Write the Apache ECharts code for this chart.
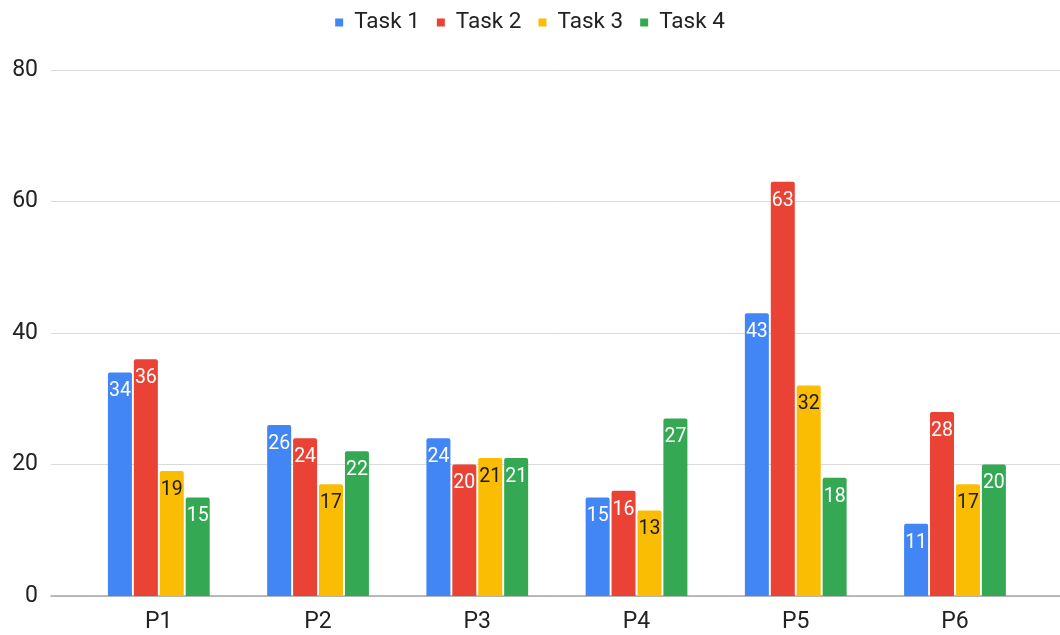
<!DOCTYPE html>
<html>
<head>
<meta charset="utf-8">
<script src="https://cdn.jsdelivr.net/npm/echarts@6/dist/echarts.min.js"></script>
<style>
  html, body { margin: 0; padding: 0; background: #fff; }
  #chart { width: 1060px; height: 635px; }
</style>
</head>
<body>
<div id="chart"></div>
<script>
const categories = ['P1', 'P2', 'P3', 'P4', 'P5', 'P6'];
const seriesNames = ['Task 1', 'Task 2', 'Task 3', 'Task 4'];
const task1 = [34, 26, 24, 15, 43, 11];
const task2 = [36, 24, 20, 16, 63, 28];
const task3 = [19, 17, 21, 13, 32, 17];
const task4 = [15, 22, 21, 27, 18, 20];
const yTicks = [0, 20, 40, 60, 80];

const colors = ['#4285F4', '#EA4335', '#FBBC04', '#34A853'];
const labelColors = ['#ffffff', '#ffffff', '#1a1a1a', '#ffffff'];
const values = [task1, task2, task3, task4];
const FONT = 'Roboto, "Noto Sans", sans-serif';

const chart = echarts.init(document.getElementById('chart'), null, { renderer: 'canvas' });

const yMin = yTicks[0];
const yMax = yTicks[yTicks.length - 1];
const yStep = yTicks[1] - yTicks[0];

const option = {
  animation: false,
  color: colors,
  textStyle: { fontFamily: FONT },
  legend: {
    data: seriesNames,
    left: 'center',
    top: 6,
    itemWidth: 8,
    itemHeight: 8,
    itemGap: 17,
    icon: 'rect',
    textStyle: { fontFamily: FONT, fontSize: 22.5, color: '#222', padding: [0, 0, 0, 6] }
  },
  grid: [
    // full-width frame: gridlines, value labels, baseline
    { left: 51, right: 0, top: 70, bottom: 39 },
    // bar area
    { left: 79.2, right: 25.4, top: 70, bottom: 39 }
  ],
  xAxis: [
    {
      gridIndex: 0, type: 'value', min: 0, max: 1,
      axisLabel: { show: false }, axisTick: { show: false }, splitLine: { show: false },
      axisLine: { show: true, lineStyle: { color: '#a6a6a6', width: 1.5 } }
    },
    {
      gridIndex: 1, type: 'category', data: categories,
      axisLine: { show: false }, axisTick: { show: false },
      axisLabel: { fontFamily: FONT, fontSize: 23, color: '#222', margin: 15 }
    }
  ],
  yAxis: [
    {
      gridIndex: 0, type: 'value', min: yMin, max: yMax, interval: yStep,
      axisLine: { show: false }, axisTick: { show: false },
      axisLabel: { fontFamily: FONT, fontSize: 23, color: '#222', margin: 13 },
      splitLine: { lineStyle: { color: '#dadada', width: 1 } }
    },
    {
      gridIndex: 1, type: 'value', min: yMin, max: yMax, interval: yStep,
      show: false, splitLine: { show: false }
    }
  ],
  series: values.map((vals, i) => ({
    name: seriesNames[i],
    type: 'bar',
    xAxisIndex: 1,
    yAxisIndex: 1,
    data: vals,
    barWidth: 24,
    barGap: '8%',
    itemStyle: { color: colors[i], borderRadius: [2, 2, 0, 0] },
    label: {
      show: true,
      position: 'insideTop',
      distance: 9,
      fontFamily: FONT,
      fontSize: 19.5,
      color: labelColors[i]
    }
  }))
};

chart.setOption(option);
</script>
</body>
</html>
